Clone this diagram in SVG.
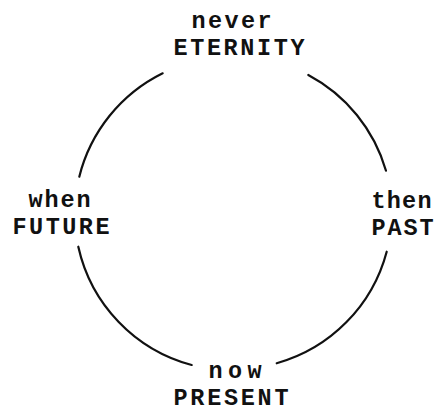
<svg xmlns="http://www.w3.org/2000/svg" width="439" height="414" viewBox="0 0 439 414">
<style>
.lbl{font-family:"Liberation Mono","DejaVu Sans Mono",monospace;font-weight:bold;font-size:23.5px;fill:#111;text-anchor:middle}
.arc{fill:none;stroke:#111;stroke-width:2.2;stroke-linecap:round}
</style>
<rect width="439" height="414" fill="#fff"/>
<g id="connectors">
<path class="arc" d="M162.7,73.3 A158,158 0 0 0 79.3,176.7"/>
<path class="arc" d="M308.3,75 A158,158 0 0 1 386,170.7"/>
<path class="arc" d="M78.3,246.7 A158,158 0 0 0 191.7,365"/>
<path class="arc" d="M386.7,251.7 A158,158 0 0 1 276.7,363.3"/>
</g>
<g id="eternity">
<text class="lbl" x="231.5" y="27.5" textLength="80" lengthAdjust="spacing">never</text>
<text class="lbl" x="239" y="55" textLength="131" lengthAdjust="spacing">ETERNITY</text>
</g>
<g id="future">
<text class="lbl" x="59.5" y="206.5" textLength="62" lengthAdjust="spacing">when</text>
<text class="lbl" x="61" y="233.5" textLength="97" lengthAdjust="spacing">FUTURE</text>
</g>
<g id="past">
<text class="lbl" x="401.5" y="208" textLength="60" lengthAdjust="spacing">then</text>
<text class="lbl" x="402.5" y="235" textLength="62" lengthAdjust="spacing">PAST</text>
</g>
<g id="present">
<text class="lbl" x="235" y="377.5" textLength="53" lengthAdjust="spacing">now</text>
<text class="lbl" x="231" y="405" textLength="115" lengthAdjust="spacing">PRESENT</text>
</g>
</svg>
